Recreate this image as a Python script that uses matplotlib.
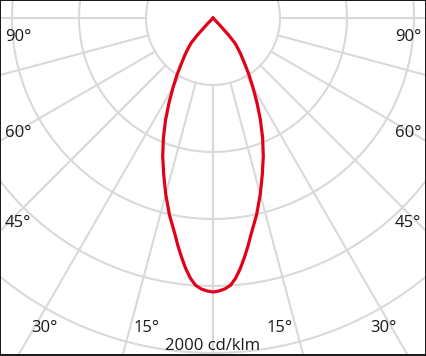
import numpy as np
import matplotlib
matplotlib.use("Agg")
import matplotlib.pyplot as plt
from matplotlib.patches import Rectangle

# ---- data ----
angles_deg = [0, 1.25, 2.5, 3.75, 5, 6.25, 7.5, 8.75, 10, 12.5, 15, 17.5, 20,
              22.5, 25, 27.5, 30, 32.5, 35, 37.5, 40, 41.25, 42.5, 43.75, 44.5]
intensity = [1636, 1630, 1619, 1599, 1558, 1503, 1440, 1376, 1310, 1203, 1090,
             979, 878, 774, 669, 567, 475, 397, 325, 272, 221, 197, 133, 47, 0]
ring_values = [400, 800, 1200, 1600, 2000, 2400]
spoke_angles = [-90, -75, -60, -45, -30, -15, 0, 15, 30, 45, 60, 75, 90]
angle_labels = ["90°", "60°", "45°", "30°", "15°"]
scale_label = "2000 cd/klm"

W, H = 427, 356
fig = plt.figure(figsize=(W / 100, H / 100), dpi=100)
fig.patch.set_facecolor("white")

# polar axes centred at pixel (213, 18) from top-left, radius 402 px for r=2400
cx, cy = 213 / W, 1 - 18 / H
R = 402
w, h = 2 * R / W, 2 * R / H
ax = fig.add_axes([cx - w / 2, cy - h / 2, w, h], projection="polar")
ax.set_theta_zero_location("S")
ax.set_ylim(0, 2400)
ax.set_axis_off()

grid_c = "#d9d9d9"
full = np.linspace(0, 2 * np.pi, 721)
for rv in ring_values:
    ax.plot(full, np.full_like(full, rv), color=grid_c, lw=1.5, zorder=1)
for a in spoke_angles:
    t = np.deg2rad(a)
    ax.plot([t, t], [ring_values[0], ring_values[-1]], color=grid_c, lw=1.5, zorder=1)

ang = np.array(angles_deg)
I = np.array(intensity)
theta = np.deg2rad(np.r_[-ang[::-1], ang[1:]])
rr = np.r_[I[::-1], I[1:]]
ax.plot(theta, rr, color="#e2001a", lw=2.3, zorder=3,
        solid_joinstyle="round", solid_capstyle="round")

font = dict(family=["Open Sans", "DejaVu Sans"], size=12, color="#1a1a1a")

def px(x, y):
    return x / W, 1 - y / H

# angle labels (left and right), baselines in pixels
left_pos = [(18, 41), (18, 137), (18, 227), (44, 332), (147, 332)]
right_pos = [(408, 41), (408, 137), (408, 227), (383, 332), (280, 332)]
for lab, (lx, ly), (rx, ry) in zip(angle_labels, left_pos, right_pos):
    fig.text(*px(lx, ly), lab, ha="center", va="baseline", **font)
    fig.text(*px(rx, ry), lab, ha="center", va="baseline", **font)
fig.text(*px(213, 350), scale_label, ha="center", va="baseline", **font)

# dark frame
fc = "#1c1c1c"
fig.add_artist(Rectangle((0, 0), 1 / W, 1, transform=fig.transFigure, color=fc, lw=0))
fig.add_artist(Rectangle((0, 1 - 1 / H), 1, 1 / H, transform=fig.transFigure, color=fc, lw=0))
fig.add_artist(Rectangle((1 - 2 / W, 0), 2 / W, 1, transform=fig.transFigure, color=fc, lw=0))
fig.add_artist(Rectangle((0, 0), 1, 2 / H, transform=fig.transFigure, color=fc, lw=0))

fig.savefig("out.png", dpi=100)
